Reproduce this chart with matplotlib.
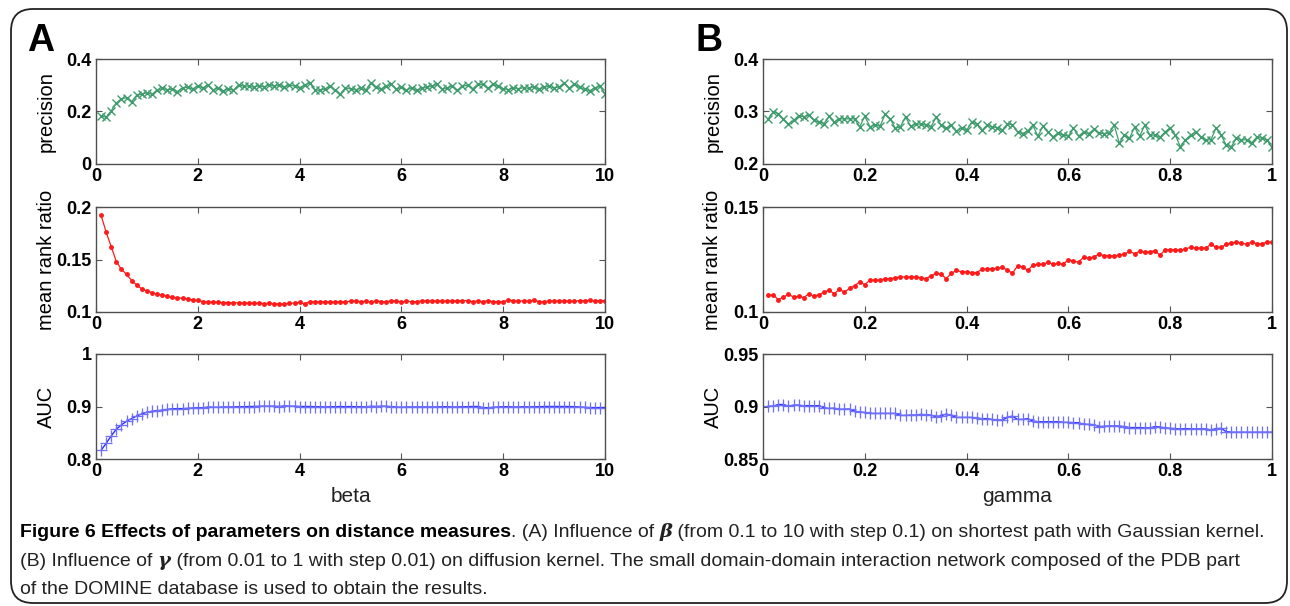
import numpy as np
import matplotlib
matplotlib.use('Agg')
import matplotlib.pyplot as plt
from matplotlib.patches import FancyBboxPatch

# parameter grids
beta = np.round(np.arange(1, 101) * 0.1, 1)
gamma = np.round(np.arange(1, 101) * 0.01, 2)

# panel A (beta)
prec_a = [0.183, 0.178, 0.203, 0.232, 0.247, 0.253, 0.238, 0.262, 0.266, 0.272,
          0.265, 0.280, 0.288, 0.283, 0.286, 0.276, 0.290, 0.292, 0.286, 0.297,
          0.290, 0.301, 0.282, 0.290, 0.278, 0.287, 0.280, 0.302, 0.296, 0.297,
          0.292, 0.299, 0.293, 0.302, 0.296, 0.300, 0.292, 0.302, 0.296, 0.291,
          0.300, 0.309, 0.283, 0.280, 0.287, 0.296, 0.280, 0.266, 0.290, 0.286,
          0.282, 0.290, 0.280, 0.310, 0.292, 0.286, 0.296, 0.305, 0.285, 0.292,
          0.281, 0.290, 0.280, 0.288, 0.292, 0.297, 0.303, 0.284, 0.290, 0.297,
          0.280, 0.296, 0.300, 0.286, 0.304, 0.303, 0.288, 0.304, 0.296, 0.287,
          0.283, 0.290, 0.286, 0.291, 0.288, 0.294, 0.285, 0.292, 0.296, 0.290,
          0.294, 0.308, 0.289, 0.304, 0.292, 0.284, 0.279, 0.290, 0.296, 0.267]
rank_a = [0.192, 0.176, 0.162, 0.148, 0.1405, 0.136, 0.130, 0.1257, 0.122, 0.120,
          0.1185, 0.117, 0.116, 0.115, 0.114, 0.1135, 0.113, 0.1125, 0.1112, 0.111,
          0.1100, 0.1095, 0.1098, 0.1093, 0.1090, 0.1090, 0.1088, 0.1088, 0.1086, 0.1087,
          0.1083, 0.1085, 0.1080, 0.1082, 0.1078, 0.1078, 0.1076, 0.1083, 0.1085, 0.1092,
          0.1078, 0.1100, 0.1099, 0.1098, 0.1098, 0.1097, 0.1094, 0.1100, 0.1096, 0.1103,
          0.1104, 0.1100, 0.1101, 0.1096, 0.1104, 0.1100, 0.1097, 0.1106, 0.1107, 0.1094,
          0.1104, 0.1097, 0.1100, 0.1105, 0.1106, 0.1103, 0.1106, 0.1104, 0.1105, 0.1107,
          0.1108, 0.1107, 0.1109, 0.1099, 0.1105, 0.1099, 0.1108, 0.1097, 0.1100, 0.1098,
          0.1115, 0.1106, 0.1105, 0.1106, 0.1103, 0.1111, 0.1100, 0.1099, 0.1105, 0.1106,
          0.1104, 0.1103, 0.1106, 0.1102, 0.1109, 0.1108, 0.1110, 0.1106, 0.1108, 0.1109]
auc_a = [0.8165, 0.830, 0.844, 0.857, 0.865, 0.872, 0.877, 0.882, 0.886, 0.889,
         0.891, 0.892, 0.893, 0.8945, 0.8955, 0.896, 0.896, 0.8965, 0.897, 0.8975,
         0.8975, 0.899, 0.8985, 0.8985, 0.899, 0.899, 0.899, 0.8995, 0.8995, 0.900,
         0.900, 0.9005, 0.9005, 0.9005, 0.9005, 0.900, 0.901, 0.9005, 0.9005, 0.900,
         0.900, 0.900, 0.8995, 0.8995, 0.899, 0.8995, 0.8995, 0.900, 0.8995, 0.900,
         0.8995, 0.8995, 0.899, 0.9005, 0.900, 0.9005, 0.9005, 0.8995, 0.899, 0.8985,
         0.899, 0.899, 0.899, 0.899, 0.899, 0.899, 0.899, 0.8995, 0.8995, 0.899,
         0.899, 0.8995, 0.8995, 0.900, 0.900, 0.898, 0.8975, 0.8985, 0.899, 0.8995,
         0.8995, 0.899, 0.899, 0.8995, 0.899, 0.8995, 0.8995, 0.900, 0.900, 0.900,
         0.900, 0.900, 0.900, 0.8995, 0.899, 0.8985, 0.898, 0.898, 0.898, 0.898]

# panel B (gamma)
prec_b = [0.286, 0.299, 0.296, 0.286, 0.276, 0.283, 0.292, 0.290, 0.293, 0.283,
          0.280, 0.277, 0.291, 0.280, 0.286, 0.286, 0.286, 0.286, 0.271, 0.291,
          0.271, 0.274, 0.272, 0.295, 0.286, 0.268, 0.271, 0.290, 0.272, 0.276,
          0.276, 0.274, 0.271, 0.289, 0.274, 0.268, 0.274, 0.262, 0.269, 0.264,
          0.280, 0.276, 0.264, 0.274, 0.271, 0.269, 0.264, 0.276, 0.275, 0.261,
          0.258, 0.263, 0.274, 0.253, 0.272, 0.261, 0.252, 0.259, 0.255, 0.253,
          0.268, 0.253, 0.261, 0.258, 0.266, 0.259, 0.258, 0.259, 0.274, 0.240,
          0.255, 0.249, 0.270, 0.253, 0.274, 0.255, 0.255, 0.251, 0.261, 0.269,
          0.255, 0.233, 0.246, 0.255, 0.261, 0.252, 0.246, 0.246, 0.269, 0.255,
          0.236, 0.233, 0.249, 0.246, 0.246, 0.240, 0.251, 0.249, 0.246, 0.232]
rank_b = [0.1081, 0.1081, 0.1059, 0.1070, 0.1086, 0.1070, 0.1075, 0.1069, 0.1086, 0.1075,
          0.1083, 0.1094, 0.1105, 0.1086, 0.1109, 0.1094, 0.1113, 0.1125, 0.1144, 0.1130,
          0.1152, 0.1152, 0.1152, 0.1159, 0.1159, 0.1163, 0.1167, 0.1167, 0.1167, 0.1166,
          0.1164, 0.1159, 0.1172, 0.1184, 0.1180, 0.1159, 0.1184, 0.1198, 0.1191, 0.1192,
          0.1188, 0.1188, 0.1203, 0.1206, 0.1206, 0.1208, 0.1213, 0.1200, 0.1184, 0.1219,
          0.1216, 0.1198, 0.1222, 0.1227, 0.1227, 0.1236, 0.1227, 0.1231, 0.1228, 0.1250,
          0.1241, 0.1238, 0.1261, 0.1255, 0.1263, 0.1275, 0.1269, 0.1269, 0.1266, 0.1272,
          0.1275, 0.1289, 0.1278, 0.1289, 0.1286, 0.1286, 0.1292, 0.1270, 0.1297, 0.1297,
          0.1297, 0.1294, 0.1300, 0.1308, 0.1305, 0.1305, 0.1305, 0.1323, 0.1308, 0.1308,
          0.1323, 0.1328, 0.1333, 0.1328, 0.1323, 0.1333, 0.1325, 0.1325, 0.1333, 0.1331]
auc_b = [0.9003, 0.9003, 0.9019, 0.9019, 0.9003, 0.9013, 0.9013, 0.9006, 0.9009, 0.9006,
         0.9009, 0.8987, 0.8981, 0.8984, 0.8972, 0.8975, 0.8975, 0.8956, 0.8947, 0.8943,
         0.8934, 0.8934, 0.8934, 0.8934, 0.8934, 0.8934, 0.8915, 0.8915, 0.8918, 0.8918,
         0.8925, 0.8921, 0.8918, 0.8903, 0.8912, 0.8928, 0.8915, 0.8896, 0.8896, 0.8896,
         0.8896, 0.8890, 0.8884, 0.8884, 0.8877, 0.8871, 0.8871, 0.8896, 0.8909, 0.8877,
         0.8877, 0.8884, 0.8862, 0.8855, 0.8855, 0.8855, 0.8855, 0.8855, 0.8849, 0.8849,
         0.8846, 0.8846, 0.8830, 0.8830, 0.8827, 0.8808, 0.8811, 0.8814, 0.8814, 0.8814,
         0.8808, 0.8799, 0.8799, 0.8799, 0.8796, 0.8796, 0.8808, 0.8805, 0.8796, 0.8792,
         0.8789, 0.8786, 0.8789, 0.8786, 0.8786, 0.8786, 0.8786, 0.8777, 0.8789, 0.8792,
         0.8761, 0.8755, 0.8755, 0.8755, 0.8755, 0.8755, 0.8755, 0.8755, 0.8755, 0.8755]

xticks_a = [0, 2, 4, 6, 8, 10]
xticks_b = [0, 0.2, 0.4, 0.6, 0.8, 1]
yticks_a = [[0, 0.2, 0.4], [0.1, 0.15, 0.2], [0.8, 0.9, 1]]
yticks_b = [[0.2, 0.3, 0.4], [0.1, 0.15], [0.85, 0.9, 0.95]]
ylabels = ['precision', 'mean rank ratio', 'AUC']

W, H = 1290, 606
fig = plt.figure(figsize=(W / 100, H / 100), dpi=100)
plt.rcParams['font.family'] = ['Liberation Sans', 'DejaVu Sans']

# background axes in pixel coordinates for border, labels and caption
bg = fig.add_axes([0, 0, 1, 1])
bg.set_xlim(0, W)
bg.set_ylim(H, 0)
bg.axis('off')
bg.add_patch(FancyBboxPatch((11, 9), 1276, 594, boxstyle='round,pad=0,rounding_size=22',
                            fc='none', ec='#222222', lw=1.3, clip_on=False))


def px_axes(left, top, right, bottom):
    return fig.add_axes([left / W, 1 - bottom / H, (right - left) / W, (bottom - top) / H])


rows = [(59, 164), (207, 312), (354, 459)]
styles = [dict(color='#3f9c6c', marker='x', ms=6, mew=1.0, lw=0.9),
          dict(color='#ff1a1a', marker='.', ms=5, lw=0.9),
          dict(color='#2a2aff', marker='+', ms=9, mew=0.9, lw=1.0, mec='#6f6fff')]

panels = [(96, 605, beta, [prec_a, rank_a, auc_a], xticks_a, yticks_a, 46, 'A', 27, 'beta'),
          (763, 1272, gamma, [prec_b, rank_b, auc_b], xticks_b, yticks_b, 713, 'B', 696, 'gamma')]

for left, right, x, series, xt, yts, ylab_x, letter, letter_x, xname in panels:
    for k, (top, bottom) in enumerate(rows):
        ax = px_axes(left, top, right, bottom)
        ax.plot(x, series[k], **styles[k])
        ax.set_xlim(xt[0], xt[-1])
        ax.set_ylim(yts[k][0], yts[k][-1])
        ax.set_xticks(xt)
        ax.set_xticklabels(['%g' % v for v in xt])
        ax.set_yticks(yts[k])
        ax.set_yticklabels(['%g' % v for v in yts[k]])
        ax.tick_params(direction='in', length=4, width=0.8, color='#555555',
                       top=True, right=True, labelsize=13, pad=3)
        for lab in ax.get_xticklabels() + ax.get_yticklabels():
            lab.set_fontweight('bold')
        for sp in ax.spines.values():
            sp.set_color('#505050')
            sp.set_linewidth(1.0)
        bg.text(ylab_x, (top + bottom) / 2, ylabels[k], rotation=90, ha='center',
                va='center', fontsize=14.5)
    bg.text(letter_x, 51, letter, fontsize=27, fontweight='bold', ha='left', va='baseline')
    bg.text((left + right) / 2, 497, xname, fontsize=15, ha='center', va='center',
            color='#222222')

# caption with mixed styles
cap = dict(fontsize=14, color='#222222')
greek = dict(family=['DejaVu Serif'], fontsize=14, style='italic', fontweight='bold', color='#222222')
lines = [
    (541, [("Figure 6 Effects of parameters on distance measures", dict(cap, fontweight='bold', color='black')),
           (". (A) Influence of ", cap), ("\u03b2", greek),
           (" (from 0.1 to 10 with step 0.1) on shortest path with Gaussian kernel.", cap)]),
    (570, [("(B) Influence of ", cap), ("\u03b3", greek),
           (" (from 0.01 to 1 with step 0.01) on diffusion kernel. The small domain-domain interaction network composed of the PDB part", cap)]),
    (598, [("of the DOMINE database is used to obtain the results.", cap)]),
]
cap_texts = []
line_ends = []
for y, parts in lines:
    t = bg.text(20, y, parts[0][0], ha='left', va='bottom', **parts[0][1])
    cap_texts.append(t)
    for s, kw in parts[1:]:
        t = bg.annotate(s, xy=(1, 0), xycoords=t, ha='left', va='bottom', **kw)
        cap_texts.append(t)
    line_ends.append(t)

# shrink the caption so the first line ends where the reference's does
fig.canvas.draw()
r = fig.canvas.get_renderer()
right_px = line_ends[0].get_window_extent(r).x1
scale = (1280 - 20) / (right_px - 20)
if scale < 1:
    for t in cap_texts:
        t.set_fontsize(t.get_fontsize() * scale)

fig.savefig('out.png', dpi=100)
